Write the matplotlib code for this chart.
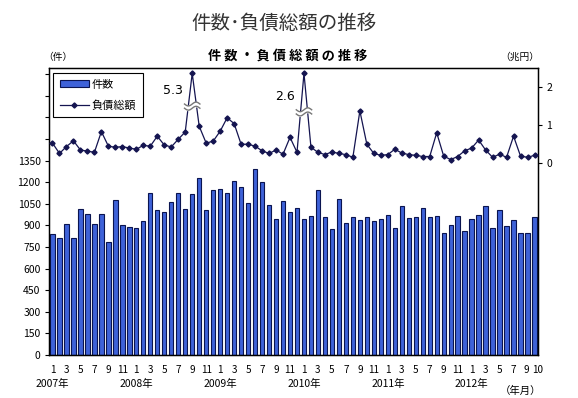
import numpy as np
import matplotlib
matplotlib.use("Agg")
import matplotlib.pyplot as plt
import matplotlib.transforms as mtransforms
from matplotlib.patches import Patch
from matplotlib.lines import Line2D

plt.rcParams['font.family'] = ['Noto Sans CJK JP', 'DejaVu Sans']

years = [2007, 2008, 2009, 2010, 2011, 2012]
months = [m for y in years for m in range(1, 13)][:70]

counts = [838, 810, 907, 810, 1012, 977, 907, 977, 782, 1074, 900, 887,
          880, 928, 1123, 1005, 991, 1060, 1123, 1012, 1116, 1227, 1005, 1144,
          1150, 1123, 1206, 1164, 1053, 1289, 1199, 1039, 942, 1067, 991, 1019,
          942, 963, 1144, 956, 873, 1081, 914, 956, 935, 956, 928, 942,
          970, 880, 1032, 949, 956, 1019, 956, 963, 845, 900, 963, 859,
          942, 970, 1032, 880, 1005, 894, 935, 845, 845, 956]

debt = [0.53, 0.26, 0.44, 0.59, 0.35, 0.32, 0.29, 0.83, 0.45, 0.42, 0.44, 0.40,
        0.37, 0.47, 0.45, 0.71, 0.48, 0.43, 0.63, 0.82, 5.3, 0.97, 0.53, 0.58,
        0.84, 1.19, 1.04, 0.50, 0.50, 0.45, 0.33, 0.26, 0.35, 0.24, 0.68, 0.29,
        2.6, 0.42, 0.29, 0.23, 0.30, 0.26, 0.23, 0.16, 1.37, 0.50, 0.26, 0.21,
        0.23, 0.37, 0.27, 0.23, 0.21, 0.18, 0.18, 0.80, 0.19, 0.10, 0.18, 0.33,
        0.40, 0.61, 0.35, 0.16, 0.24, 0.16, 0.71, 0.19, 0.16, 0.21]

W, H = 578, 398
fig = plt.figure(figsize=(W / 100, H / 100), dpi=100)
L, R, T, B = 49, 538, 68, 355
ax = fig.add_axes([L / W, 1 - B / H, (R - L) / W, (B - T) / H])

x = np.arange(len(counts))
ax.bar(x, counts, width=0.62, color='#3e62d8', edgecolor='#0a1450', linewidth=0.8, zorder=2)
ax.set_xlim(-0.5, len(counts) - 0.5)
ax.set_ylim(0, 1993)
yt = np.arange(0, 2000, 150)
ax.set_yticks(yt)
ax.set_yticklabels([str(v) if v <= 1350 else '' for v in yt], fontsize=7.5)
ax.tick_params(axis='y', direction='out', length=3, width=0.8, pad=3)

xt = [i for i, m in enumerate(months) if m % 2 == 1 or i == len(months) - 1]
ax.set_xticks(xt)
ax.set_xticklabels([str(months[i]) for i in xt], fontsize=7.2)
ax.tick_params(axis='x', length=0, pad=7)
labs = ax.get_xticklabels()
labs[-1].set_transform(labs[-1].get_transform() +
                       mtransforms.ScaledTranslation(3 / 100, 0, fig.dpi_scale_trans))
labs[-2].set_transform(labs[-2].get_transform() +
                       mtransforms.ScaledTranslation(-1 / 100, 0, fig.dpi_scale_trans))
for s in ax.spines.values():
    s.set_linewidth(1.0)
    s.set_color('black')

# year labels
for k, y in enumerate(years):
    ax.text(k * 12, -0.10, f'{y}年', transform=ax.get_xaxis_transform(),
            ha='center', va='center', fontsize=7.5)
fig.text(521 / W, 1 - 391 / H, '（年月）', ha='center', va='center', fontsize=7.5)

ax2 = ax.twinx()
ax2.set_ylim(-5.0, 2.49)
ax2.set_yticks([0, 1, 2])
ax2.set_yticklabels(['0', '1', '2'], fontsize=7.5)
ax2.tick_params(axis='y', direction='out', length=3, width=0.8, pad=3)
debt_arr = np.array(debt)
disp = np.minimum(debt_arr, 2.35)
ax2.plot(x, disp, color='#141450', linewidth=0.9, marker='D', markersize=2.6, zorder=3)

# axis-break symbols and true values for clipped peaks
for i in np.where(debt_arr > 2.35)[0]:
    yb = 1.55 if debt_arr[i] > 4 else 1.40
    xs = np.linspace(i - 1.1, i + 1.1, 40)
    wave = 0.05 * np.sin((xs - i) / 1.1 * np.pi)
    y1 = yb + wave
    y2 = yb + wave - 0.11
    ax2.fill_between(xs, y2, y1, color='white', zorder=4)
    ax2.plot(xs, y1, color='#777777', linewidth=1.0, zorder=5)
    ax2.plot(xs, y2, color='#777777', linewidth=1.0, zorder=5)
    ax2.text(i - 1.3, yb + 0.18, f'{debt_arr[i]:.1f}', ha='right', va='bottom', fontsize=9,
             family=['DejaVu Sans'])

handles = [Patch(facecolor='#3e62d8', edgecolor='#0a1450', linewidth=0.8),
           Line2D([0], [0], color='#141450', linewidth=0.9, marker='D', markersize=2.6)]
leg = ax2.legend(handles, ['件数', '負債総額'], loc='upper left',
                 bbox_to_anchor=(53 / W, 1 - 73 / H), bbox_transform=fig.transFigure,
                 fontsize=8, fancybox=False, edgecolor='black', framealpha=1,
                 handlelength=2.6, handleheight=0.6, borderpad=0.6, labelspacing=0.9,
                 handletextpad=0.3, borderaxespad=0)
leg.get_frame().set_linewidth(0.8)

fig.text(284 / W, 1 - 23 / H, '件数･負債総額の推移', ha='center', va='center',
         fontsize=14, color='#333333')
fig.text(288 / W, 1 - 56 / H, '件 数 ・ 負 債 総 額 の 推 移', ha='center', va='center',
         fontsize=9.5, fontweight='bold', color='black')
fig.text(58 / W, 1 - 57 / H, '（件）', ha='center', va='center', fontsize=7)
fig.text(520 / W, 1 - 57 / H, '（兆円）', ha='center', va='center', fontsize=7)

fig.savefig('out.png', dpi=100)
